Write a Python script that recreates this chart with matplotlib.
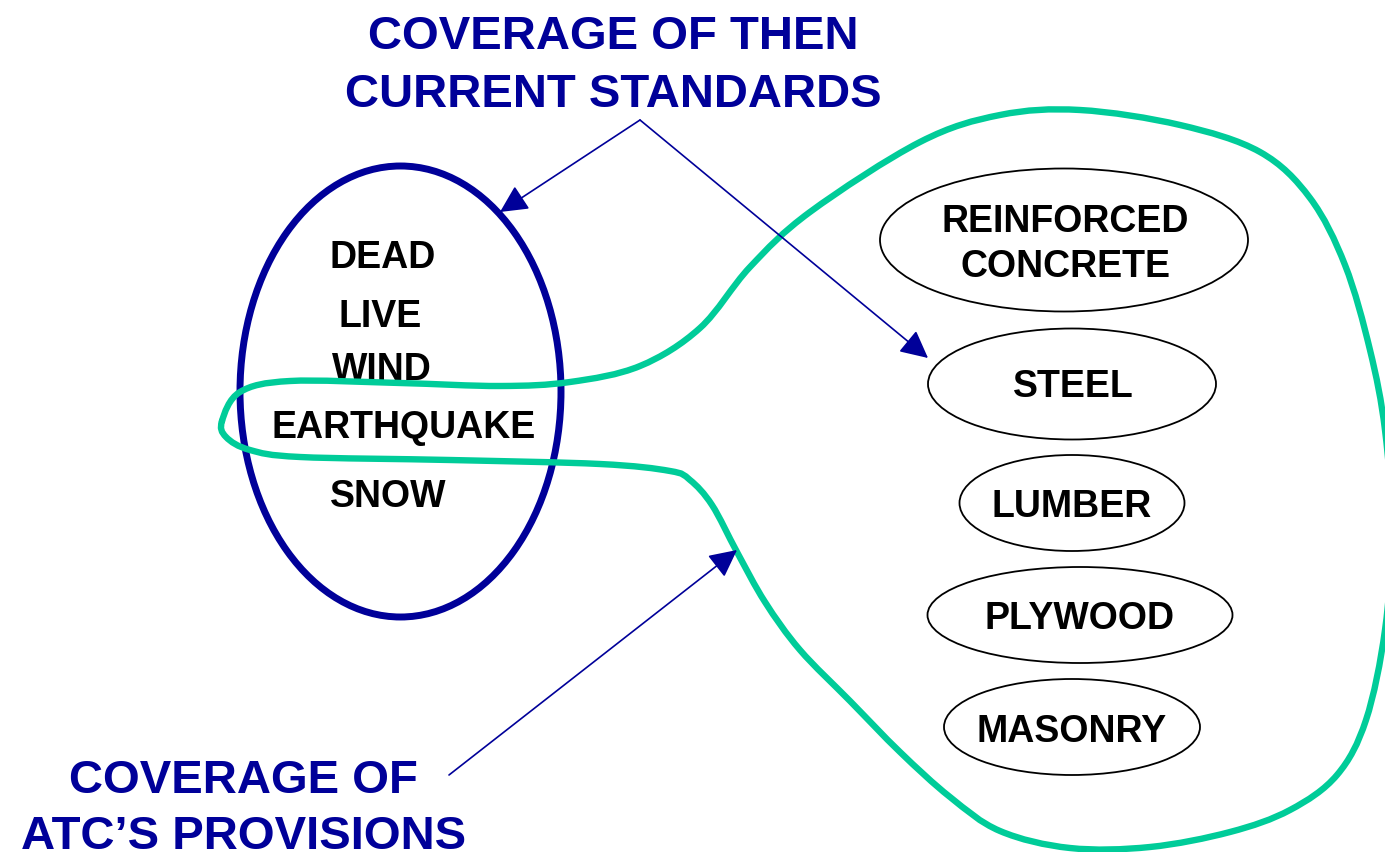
import numpy as np
import matplotlib
matplotlib.use("Agg")
import matplotlib.pyplot as plt
from matplotlib.patches import Ellipse, FancyArrowPatch, PathPatch, ArrowStyle
from matplotlib.path import Path

plt.rcParams['font.family'] = ['Liberation Sans', 'DejaVu Sans']

# ---- content ----
title_lines = ["COVERAGE OF THEN", "CURRENT STANDARDS"]
atc_lines = ["COVERAGE OF", "ATC\u2019S PROVISIONS"]
load_types = ["DEAD", "LIVE", "WIND", "EARTHQUAKE", "SNOW"]
materials = [["REINFORCED", "CONCRETE"], ["STEEL"], ["LUMBER"], ["PLYWOOD"], ["MASONRY"]]

# ---- layout (pixel coordinates) ----
load_x = [383, 380, 382, 404, 388]
load_base = [268, 327, 380, 438, 507]
mat_center = [(1064, 240), (1072, 384), (1072, 503), (1080, 615), (1072, 727)]
mat_size = [(368, 143), (288, 111), (225, 96), (305, 96), (256, 96)]
mat_base = [[232, 277], [397], [517], [629], [742]]
mat_text_x = [1065, 1073, 1072, 1080, 1072]

# outline of ATC's provisions (closed freehand curve)
atc_outline = [
    (222, 421), (240, 392), (290, 381), (400, 383), (500, 386), (570, 382),
    (640, 366), (700, 328), (750, 267), (810, 212), (920, 142), (1000, 115),
    (1080, 110), (1180, 125), (1260, 152), (1310, 198), (1345, 265),
    (1370, 350), (1385, 430), (1392, 530), (1385, 630), (1366, 720),
    (1337, 775), (1290, 810), (1230, 832), (1150, 847), (1070, 848),
    (1000, 831), (950, 797), (900, 752), (850, 701), (800, 650), (765, 602),
    (737, 552), (712, 505), (690, 480), (670, 471), (600, 464), (450, 460),
    (300, 457), (250, 450), (226, 437),
]

BLUE = "#000099"
GREEN = "#00CC99"
FS_HEAD = 34
FS_LBL = 27

W, H = 1385, 852
fig = plt.figure(figsize=(W / 100, H / 100), dpi=100)
ax = fig.add_axes([0, 0, 1, 1])
ax.set_xlim(0, W)
ax.set_ylim(H, 0)
ax.axis("off")


def closed_bezier(points, tension=1.0):
    p = np.array(points, dtype=float)
    n = len(p)
    verts = [tuple(p[0])]
    codes = [Path.MOVETO]
    for i in range(n):
        p0 = p[(i - 1) % n]
        p1 = p[i]
        p2 = p[(i + 1) % n]
        p3 = p[(i + 2) % n]
        c1 = p1 + (p2 - p0) / 6.0 * tension
        c2 = p2 - (p3 - p1) / 6.0 * tension
        verts += [tuple(c1), tuple(c2), tuple(p2)]
        codes += [Path.CURVE4] * 3
    return Path(verts, codes)


# blue ellipse (then current standards)
ax.add_patch(Ellipse((400.5, 391.5), 321, 451, fill=False, edgecolor=BLUE, lw=5.0, zorder=2))

# load labels
for name, x, yb in zip(load_types, load_x, load_base):
    ax.text(x, yb, name, ha="center", va="baseline", fontsize=FS_LBL,
            fontweight="bold", color="black", zorder=3)

# material ellipses and labels
for lines, c, s, bases, tx in zip(materials, mat_center, mat_size, mat_base, mat_text_x):
    ax.add_patch(Ellipse(c, s[0], s[1], fill=False, edgecolor="black", lw=1.3, zorder=2))
    for line, yb in zip(lines, bases):
        ax.text(tx, yb, line, ha="center", va="baseline", fontsize=FS_LBL,
                fontweight="bold", color="black", zorder=3)

# green outline
ax.add_patch(PathPatch(closed_bezier(atc_outline), fill=False, edgecolor=GREEN,
                       lw=4.6, zorder=4, capstyle="round", joinstyle="round"))

# headers
ax.text(613, 49, title_lines[0], ha="center", va="baseline", fontsize=FS_HEAD,
        fontweight="bold", color=BLUE, zorder=5)
ax.text(613, 107, title_lines[1], ha="center", va="baseline", fontsize=FS_HEAD,
        fontweight="bold", color=BLUE, zorder=5)
ax.text(243, 793, atc_lines[0], ha="center", va="baseline", fontsize=FS_HEAD,
        fontweight="bold", color=BLUE, zorder=5)
ax.text(244, 849, atc_lines[1], ha="center", va="baseline", fontsize=FS_HEAD,
        fontweight="bold", color=BLUE, zorder=5)

# arrows
style = ArrowStyle("-|>", head_length=17, head_width=8.5)
arrows = [((640, 120), (500, 212)), ((640, 120), (928, 358)), ((449, 775), (737, 550))]
for a, b in arrows:
    ax.add_patch(FancyArrowPatch(a, b, arrowstyle=style, mutation_scale=1,
                                 color=BLUE, lw=1.2, shrinkA=0, shrinkB=0, zorder=6))

fig.savefig("out.png", dpi=100)
